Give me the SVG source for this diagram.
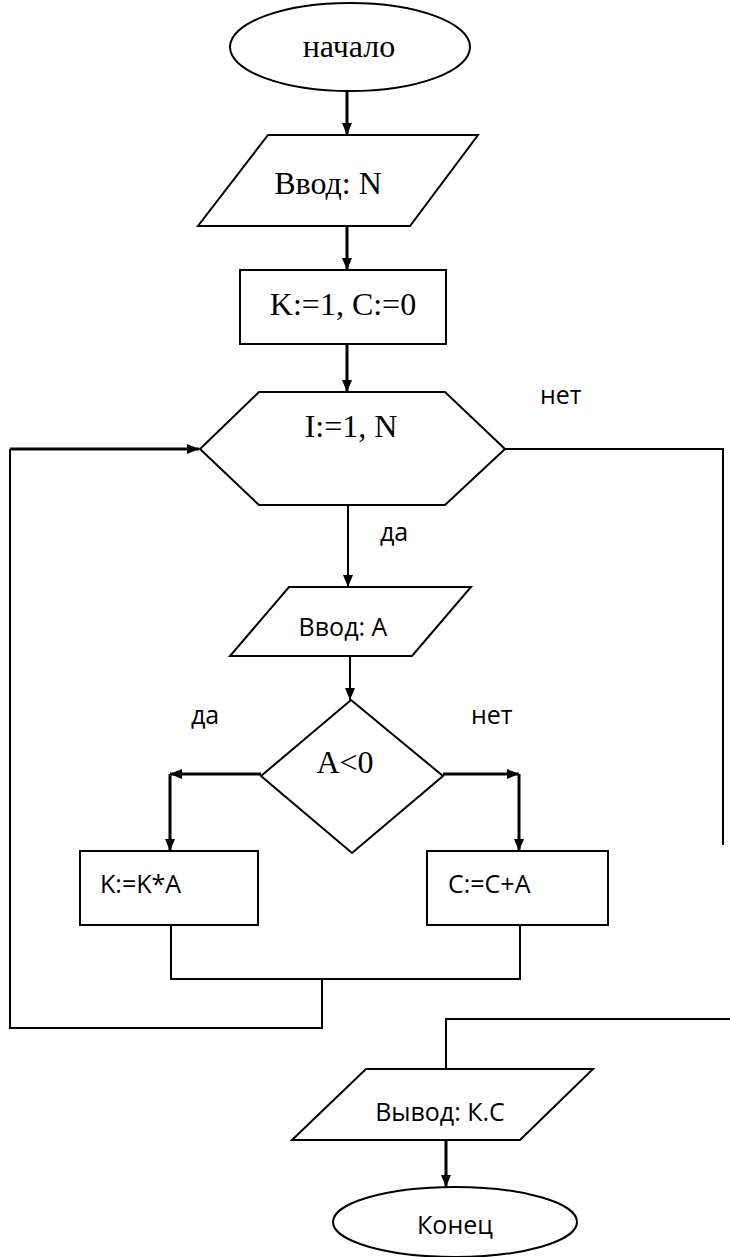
<svg xmlns="http://www.w3.org/2000/svg" width="730" height="1257" viewBox="0 0 730 1257">
<style>
.shape{fill:none;stroke:#000;stroke-width:2}
.line{fill:none;stroke:#000;stroke-width:2}
.thick{fill:none;stroke:#000;stroke-width:3}
.serif{font-family:"Liberation Serif","Times New Roman",serif;font-size:32px;fill:#000}
.sans{font-family:"Open Sans","Liberation Sans",Arial,sans-serif;font-size:25px;fill:#000}
</style>
<defs>
<marker id="arr" viewBox="0 0 12 10" refX="12" refY="5" markerWidth="12" markerHeight="10" markerUnits="userSpaceOnUse" orient="auto">
<path d="M0,0 L12,5 L0,10 z" fill="#000"/>
</marker>
</defs>
<rect width="730" height="1257" fill="#fff"/>
<g id="connectors">
<line class="thick" x1="347" y1="91" x2="347" y2="135" marker-end="url(#arr)"/>
<line class="thick" x1="347" y1="226" x2="347" y2="270" marker-end="url(#arr)"/>
<line class="thick" x1="347" y1="344" x2="347" y2="392" marker-end="url(#arr)"/>
<line class="line" x1="348" y1="505" x2="348" y2="587" marker-end="url(#arr)"/>
<line class="line" x1="350" y1="656" x2="350" y2="700" marker-end="url(#arr)"/>
<polyline class="thick" points="261,774 170,774" marker-end="url(#arr)"/>
<line class="thick" x1="170" y1="774" x2="170" y2="851" marker-end="url(#arr)"/>
<polyline class="thick" points="443,774 519,774" marker-end="url(#arr)"/>
<line class="thick" x1="519" y1="774" x2="519" y2="851" marker-end="url(#arr)"/>
<polyline class="line" points="171,925 171,979 520,979 520,925"/>
<polyline class="line" points="322,979 322,1028 10,1028 10,449"/>
<line class="thick" x1="10" y1="449" x2="199" y2="449" marker-end="url(#arr)"/>
<polyline class="line" points="505,449 723,449 723,845"/>
<polyline class="line" points="730,1019 446,1019 446,1069"/>
<line class="thick" x1="446" y1="1140" x2="446" y2="1187" marker-end="url(#arr)"/>
<text class="sans" x="540" y="404">нет</text>
<text class="sans" x="380" y="541">да</text>
<text class="sans" x="191" y="724">да</text>
<text class="sans" x="471" y="724">нет</text>
</g>
<g id="start">
<ellipse class="shape" cx="350" cy="47" rx="120" ry="44"/>
<text class="serif" x="349" y="57" text-anchor="middle">начало</text>
</g>
<g id="inputN">
<polygon class="shape" points="268,135 478,135 410,226 198,226"/>
<text class="serif" x="328" y="194" text-anchor="middle">Ввод: N</text>
</g>
<g id="init">
<rect class="shape" x="240" y="270" width="206" height="74"/>
<text class="serif" x="343" y="315" text-anchor="middle">K:=1, C:=0</text>
</g>
<g id="loop">
<polygon class="shape" points="259,392 445,392 505,449 445,505 259,505 200,449"/>
<text class="serif" x="351" y="437" text-anchor="middle">I:=1, N</text>
</g>
<g id="inputA">
<polygon class="shape" points="289,587 471,587 412,656 230,656"/>
<text class="sans" x="343" y="636" text-anchor="middle">Ввод: А</text>
</g>
<g id="cond">
<polygon class="shape" points="351,700 443,776 352,853 261,776"/>
<text class="serif" x="345" y="773" text-anchor="middle">A&lt;0</text>
</g>
<g id="mulK">
<rect class="shape" x="80" y="851" width="178" height="74"/>
<text class="sans" x="100" y="893">K:=K*A</text>
</g>
<g id="addC">
<rect class="shape" x="427" y="851" width="181" height="74"/>
<text class="sans" x="448" y="893">C:=C+A</text>
</g>
<g id="output">
<polygon class="shape" points="366,1069 593,1069 520,1140 292,1140"/>
<text class="sans" x="440" y="1121" text-anchor="middle">Вывод: К.С</text>
</g>
<g id="end">
<ellipse class="shape" cx="455" cy="1222" rx="122" ry="35"/>
<text class="sans" x="455" y="1234" text-anchor="middle">Конец</text>
</g>
</svg>
